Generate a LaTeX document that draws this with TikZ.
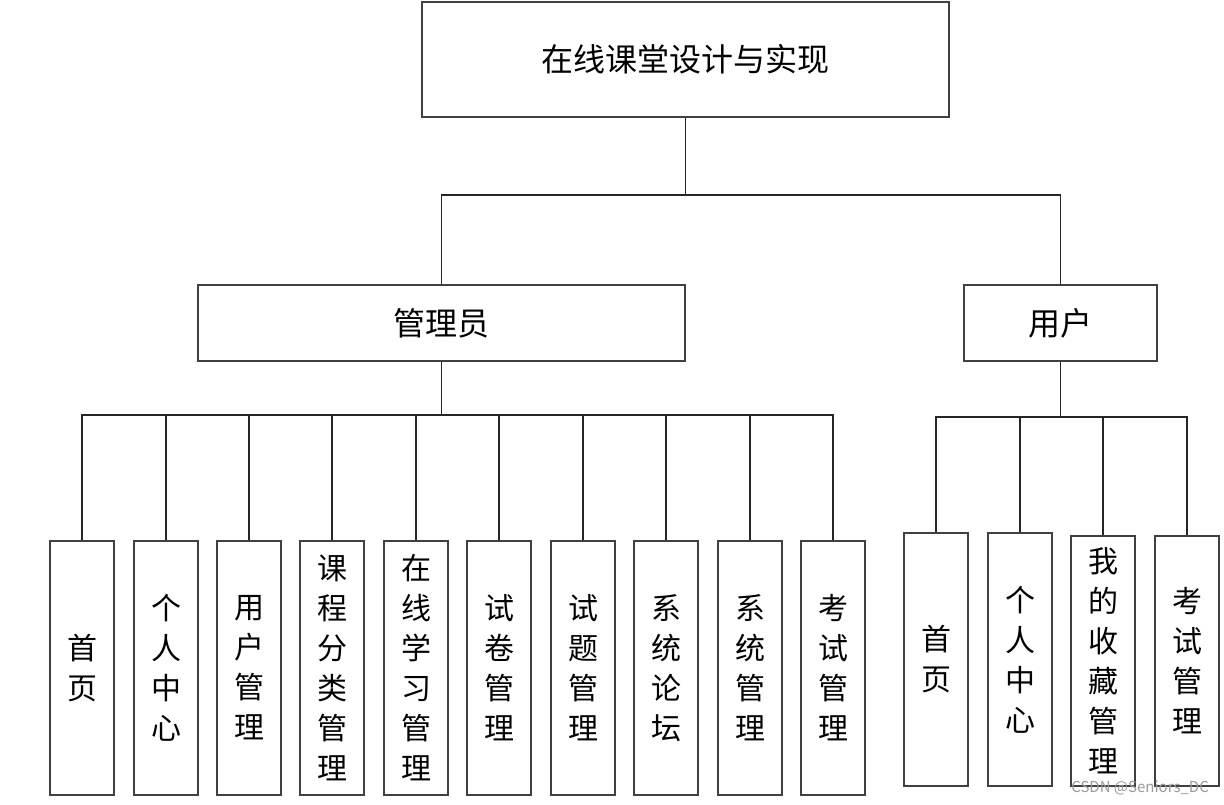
\documentclass[tikz,border=0pt]{standalone}
\usepackage{fontspec}
\setmainfont{Noto Sans CJK SC}
\begin{document}
\begin{tikzpicture}[x=1pt,y=-1pt,
  box/.style={draw=black!75, line width=1.1pt, fill=white, inner sep=0pt, align=center, font=\fontsize{32}{40}\selectfont},
  leaf/.style={box, minimum width=64pt, font=\fontsize{30}{40}\selectfont},
  conn/.style={draw=black!85, line width=1.1pt}]
\useasboundingbox (0,0) rectangle (1224,804);
\fill[white] (0,0) rectangle (1224,804);
% top levels
\node[box, minimum width=527pt, minimum height=115pt] (top) at (685.5,59.5) {在线课堂设计与实现};
\node[box, minimum width=487pt, minimum height=76pt] (admin) at (441.5,323) {管理员};
\node[box, minimum width=193pt, minimum height=76pt] (user) at (1060.5,323) {用户};
% admin leaves
\foreach \n/\x/\t in {a1/82/{首\\页}, a2/166/{个\\人\\中\\心}, a3/249/{用\\户\\管\\理}, a4/332/{课\\程\\分\\类\\管\\理}, a5/416/{在\\线\\学\\习\\管\\理}, a6/499/{试\\卷\\管\\理}, a7/583/{试\\题\\管\\理}, a8/666/{系\\统\\论\\坛}, a9/750/{系\\统\\管\\理}, a10/833/{考\\试\\管\\理}}
  \node[leaf, minimum height=254pt] (\n) at (\x,668) {\t};
% user leaves
\node[leaf, minimum height=253pt] (u1) at (936,659.5) {首\\页};
\node[leaf, minimum height=253pt] (u2) at (1020,659.5) {个\\人\\中\\心};
\node[leaf, minimum height=250pt] (u3) at (1103,661) {我\\的\\收\\藏\\管\\理};
\node[leaf, minimum height=250pt] (u4) at (1187,661) {考\\试\\管\\理};
% connectors
\coordinate (j1) at (685.5,195);
\coordinate (j2) at (441.5,415);
\coordinate (j3) at (1060.5,417);
\draw[conn] (top.south) -- (j1);
\draw[conn] (admin.north) |- (j1) -| (user.north);
\draw[conn] (admin.south) -- (j2);
\draw[conn] (a1.north) |- (j2) -| (a10.north);
\foreach \n in {a2,a3,a4,a5,a6,a7,a8,a9}
  \draw[conn] (\n.north) -- (\n.north |- j2);
\draw[conn] (user.south) -- (j3);
\draw[conn] (u1.north) |- (j3) -| (u4.north);
\foreach \n in {u2,u3}
  \draw[conn] (\n.north) -- (\n.north |- j3);
% watermark
\node[text=black!40, font=\fontsize{15}{17}\selectfont, inner sep=0pt, anchor=east] (wm) at (1209,788) {CSDN @Seniors\_DC};
\end{tikzpicture}
\end{document}
